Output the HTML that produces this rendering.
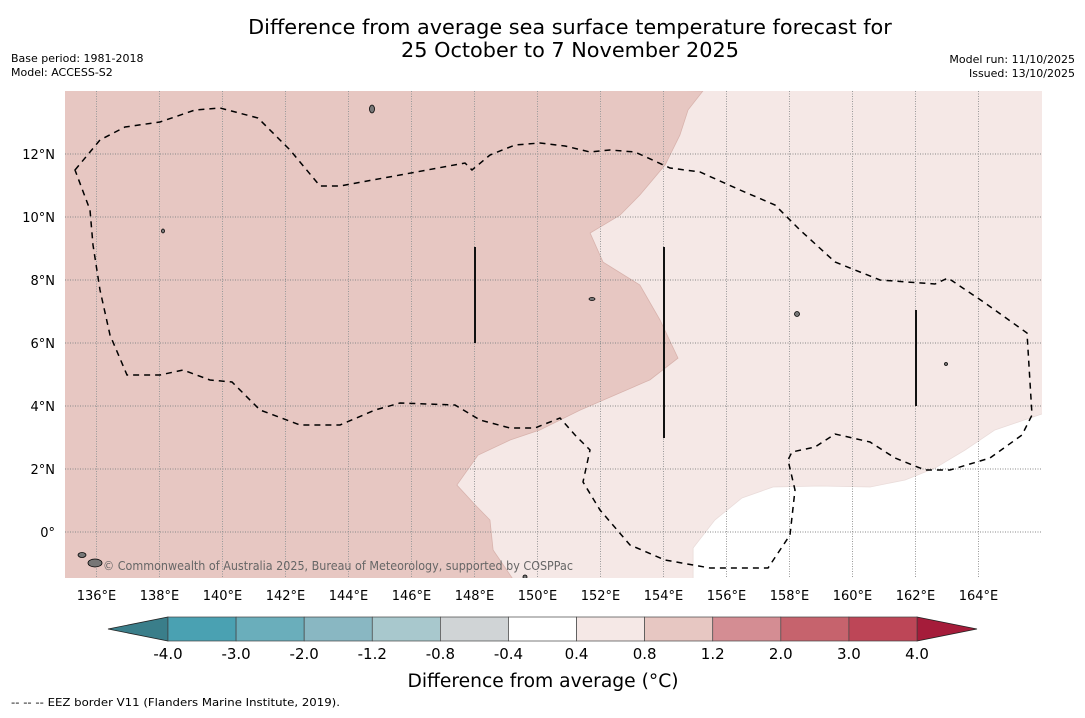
<!DOCTYPE html>
<html><head><meta charset="utf-8"><style>
body{margin:0;background:#fff;width:1085px;height:713px;overflow:hidden;font-family:"Liberation Sans","DejaVu Sans",sans-serif}
text{font-family:"DejaVu Sans","Liberation Sans",sans-serif}
</style></head><body>
<svg id="chart" width="1085" height="713" xmlns="http://www.w3.org/2000/svg">
<text x="570" y="34" font-size="20.8" text-anchor="middle">Difference from average sea surface temperature forecast for</text>
<text x="570" y="57" font-size="20.8" text-anchor="middle">25 October to 7 November 2025</text>
<text x="11" y="62" font-size="11">Base period: 1981-2018</text>
<text x="11" y="76" font-size="11">Model: ACCESS-S2</text>
<text x="1075" y="63" font-size="11" text-anchor="end">Model run: 11/10/2025</text>
<text x="1075" y="77" font-size="11" text-anchor="end">Issued: 13/10/2025</text>
<defs><clipPath id="mc"><rect x="65" y="91" width="977" height="487"/></clipPath></defs>
<g id="map" clip-path="url(#mc)"></g>
<g id="axes"></g>
<g id="cbar"></g>
<text x="543" y="687" font-size="18.7" text-anchor="middle">Difference from average (°C)</text>
<text x="11" y="706" font-size="11" textLength="329" lengthAdjust="spacingAndGlyphs">--  --  -- EEZ border V11 (Flanders Marine Institute, 2019).</text>
</svg>
<script>
const lonTicks=[136,138,140,142,144,146,148,150,152,154,156,158,160,162,164];
const latTicks=[0,2,4,6,8,10,12];
const cbarLevels=["-4.0","-3.0","-2.0","-1.2","-0.8","-0.4","0.4","0.8","1.2","2.0","3.0","4.0"];
const cbarColors=["#4aa1b2","#6aaebb","#89b7c2","#a8c8cd","#d0d4d6","#ffffff","#f5e8e6","#e7c7c2","#d48d93","#c6636d","#bd4657"];
const warmRegion=[[155.25,14],[154.78,13.4],[154.52,12.6],[154.05,11.65],[153.25,10.7],[152.62,10.06],[151.67,9.49],[152.08,8.57],[153.25,7.84],[153.89,6.73],[154.46,5.52],[153.57,4.83],[152.46,4.35],[151.35,3.87],[150.08,3.24],[149.13,2.92],[148.11,2.44],[147.44,1.49],[148.02,0.86],[148.49,0.38],[148.59,-0.57],[149.29,-1.6],[134,-1.6],[134,14.5]];
const neutralRegion=[[154.94,-1.6],[154.94,-0.51],[155.63,0.38],[156.49,1.08],[157.48,1.43],[158.97,1.46],[160.56,1.43],[161.67,1.65],[162.62,2.03],[163.57,2.6],[164.52,3.24],[166.2,3.81],[166.2,-1.6]];
const x=lon=>65+(lon-135)*31.5, y=lat=>91+(14-lat)*31.5;
const NS="http://www.w3.org/2000/svg";
function mk(p,t,a){const e=document.createElementNS(NS,t);for(const k in a)e.setAttribute(k,a[k]);p.appendChild(e);return e;}
const map=document.getElementById('map'), axes=document.getElementById('axes'), cb=document.getElementById('cbar');
let bg=mk(map,'rect',{x:65,y:91,width:977,height:487,fill:'#f5e8e6'});


let wr=mk(map,'polygon',{points:warmRegion.map(p=>x(p[0])+','+y(p[1])).join(' '),fill:'#e7c7c2',stroke:'#d8b3ad','stroke-width':0.8});


let nr=mk(map,'polygon',{points:neutralRegion.map(p=>x(p[0])+','+y(p[1])).join(' '),fill:'#ffffff',stroke:'#eadcda','stroke-width':0.8});


lonTicks.forEach(l=>{
 let g=mk(map,'line',{x1:x(l),x2:x(l),y1:91,y2:578,stroke:'#999','stroke-width':1,'stroke-dasharray':'1,1.5'});
 
 
 let t=mk(axes,'text',{x:x(l),y:600,'font-size':13,'text-anchor':'middle'});t.textContent=l+'°E';
 
 
});
latTicks.forEach(l=>{
 let g=mk(map,'line',{x1:65,x2:1042,y1:y(l),y2:y(l),stroke:'#888','stroke-width':1,'stroke-dasharray':'1,1.5'});
 
 
 let t=mk(axes,'text',{x:55,y:y(l)+5,'font-size':13,'text-anchor':'end'});t.textContent=l===0?'0°':l+'°N';
 
 
});
let eez=mk(map,'path',{d:'M75,170 L100,140 125,127 160,122 195,110 220,108 258,118 290,150 320,186 340,186 400,175 465,163 472,170 490,155 515,145 540,143 565,146 590,152 610,150 635,152 670,168 700,172 740,190 775,205 800,230 835,262 880,280 935,284 948,278 985,303 1027,333 1032,415 1022,435 990,458 950,470 925,470 895,458 870,442 835,434 815,447 792,452 788,460 795,490 790,535 768,568 710,568 665,560 630,545 600,510 583,482 590,450 575,435 560,418 535,428 510,428 480,420 455,405 400,403 375,410 340,425 300,425 260,410 232,382 210,380 183,370 160,375 127,375 110,335 100,290 93,245 90,210 Z',fill:'none',stroke:'#000','stroke-width':1.5,'stroke-dasharray':'6,5'});


[[475,247,343],[664,247,438],[916,310,406]].forEach(s=>{
 let l=mk(map,'line',{x1:s[0],x2:s[0],y1:s[1],y2:s[2],stroke:'#111','stroke-width':2});
 
 
});
[[372,109,2.5,4],[163,231,1.5,2],[592,299,3,1.5],[797,314,2.5,2.5],[946,364,1.5,1.5],[95,563,7,4],[82,555,4,2.5],[525,577,2,2]].forEach(i=>{
 let e=mk(map,'ellipse',{cx:i[0],cy:i[1],rx:i[2],ry:i[3],fill:'#777',stroke:'#000','stroke-width':0.8});
 
 
});
let wm=mk(map,'text',{x:103,y:570,'font-size':12,fill:'#666',textLength:470,lengthAdjust:'spacingAndGlyphs'});wm.textContent='© Commonwealth of Australia 2025, Bureau of Meteorology, supported by COSPPac';


const cx0=168, cw=(917-168)/cbarColors.length;
let lt=mk(cb,'polygon',{points:`108,629 ${cx0},617 ${cx0},641`,fill:'#3a7e8a',stroke:'#222','stroke-width':0.8});


let rt=mk(cb,'polygon',{points:`917,617 977,629 917,641`,fill:'#a51c3a',stroke:'#222','stroke-width':0.8});


cbarColors.forEach((c,i)=>{
 let r=mk(cb,'rect',{x:cx0+i*cw,y:617,width:cw,height:24,fill:c,stroke:'#444','stroke-width':0.7});
 
 
});
cbarLevels.forEach((v,i)=>{
 let t=mk(cb,'text',{x:cx0+i*cw,y:659,'font-size':15,'text-anchor':'middle'});t.textContent=v;
 
 
});
</script>
</body></html>
